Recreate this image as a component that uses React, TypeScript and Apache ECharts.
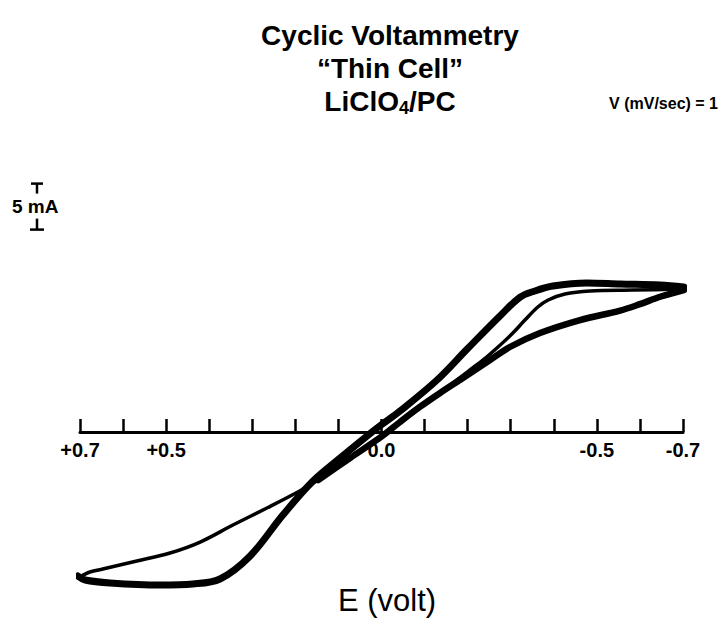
import React, { useEffect, useRef } from "react";
import * as echarts from "echarts";

// Tick labels shown on the potential axis (E in volts, reversed)
const tickLabels: Record<string, string> = {
  "0.7": "+0.7",
  "0.5": "+0.5",
  "0": "0.0",
  "-0.5": "-0.5",
  "-0.7": "-0.7",
};

// Outer (thick) branch: from cathodic end back through 0 to the anodic end
const outerE = [-0.702, -0.647, -0.554, -0.477, -0.398, -0.356, -0.322, -0.275, -0.199, -0.129, -0.043, 0.001, 0.022, 0.096, 0.159, 0.229, 0.305, 0.375, 0.438, 0.514, 0.63, 0.688, 0.705];
const outerI = [15.76, 15.98, 16.09, 16.2, 15.87, 15.33, 14.67, 12.61, 9.02, 5.65, 2.28, 0.76, 0, -2.83, -5.33, -9.02, -13.48, -15.98, -16.52, -16.63, -16.41, -16.09, -15.65];

// Thin return branch in the anodic region
const anodicReturnE = [0.7, 0.677, 0.647, 0.568, 0.491, 0.421, 0.345, 0.266, 0.19, 0.147];
const anodicReturnI = [-15.76, -15.22, -14.89, -14.02, -13.15, -11.96, -10.11, -8.26, -6.41, -5.22];

// Forward branch towards the cathodic end (several overlapping cycles)
const cathodicForwardE = [0.147, 0.073, 0.001, -0.043, -0.089, -0.136, -0.189, -0.252, -0.298, -0.368, -0.461, -0.554, -0.6, -0.647, -0.702];
const cathodicForwardI = [-5.22, -2.83, -0.54, 1.09, 2.72, 4.24, 5.87, 7.83, 9.24, 10.76, 12.17, 13.2, 13.9, 14.7, 15.43];

// Inner (thin) cycle returning from the cathodic end
const innerE = [-0.702, -0.584, -0.484, -0.426, -0.387, -0.363, -0.333, -0.305, -0.268, -0.236, -0.199, -0.136];
const innerI = [15.54, 15.43, 15.33, 15.0, 14.35, 13.59, 12.17, 10.76, 9.13, 7.83, 6.52, 4.24];

const scaleBarMA = [22, 27];
const yMin = -20;
const yMax = 27;

const FONT = '"Liberation Sans", Arial, Helvetica, sans-serif';

const zip = (xs: number[], ys: number[]) => xs.map((x, i) => [x, ys[i]]);

export default function App() {
  const ref = useRef<HTMLDivElement>(null);
  useEffect(() => {
    if (!ref.current) return;
    const chart = echarts.init(ref.current, undefined, { renderer: "svg" });
    const gridTop = 183.6;
    const gridBottom = 11;
    const gridH = 627 - gridTop - gridBottom;
    const zeroOffset = -(gridH * (0 - yMin)) / (yMax - yMin);
    const lineSeries = (data: number[][], width: number) => ({
      type: "line",
      data,
      showSymbol: false,
      symbol: "none",
      smooth: 0.35,
      clip: false,
      lineStyle: { color: "#000", width, cap: "round", join: "round" },
      silent: true,
    });
    chart.setOption({
      animation: false,
      backgroundColor: "#fff",
      grid: { left: 80, right: 39, top: gridTop, bottom: gridBottom, outerBoundsMode: "none", containLabel: false },
      xAxis: {
        type: "value",
        min: -0.7,
        max: 0.7,
        interval: 0.1,
        inverse: true,
        position: "bottom",
        offset: zeroOffset,
        splitLine: { show: false },
        axisLine: { onZero: false, lineStyle: { color: "#000", width: 3 } },
        axisTick: { inside: true, length: 13, lineStyle: { color: "#000", width: 2.5 } },
        axisLabel: {
          interval: 0,
          showMinLabel: true,
          showMaxLabel: true,
          hideOverlap: false,
          color: "#000",
          fontFamily: FONT,
          fontWeight: "bold",
          fontSize: 20,
          margin: 8,
          formatter: (v: number) => {
            const k = String(Math.round(v * 10) / 10);
            return tickLabels[k] ?? "";
          },
        },
      },
      yAxis: {
        type: "value",
        min: yMin,
        max: yMax,
        show: false,
        splitLine: { show: false },
      },
      series: [
        lineSeries(zip(outerE, outerI), 7),
        lineSeries(zip(anodicReturnE, anodicReturnI), 3.5),
        lineSeries(zip(cathodicForwardE, cathodicForwardI), 6.5),
        lineSeries(zip(innerE, innerI), 3.5),
      ],
    });

    const yTop = chart.convertToPixel({ yAxisIndex: 0 }, scaleBarMA[1]) as number;
    const yBot = chart.convertToPixel({ yAxisIndex: 0 }, scaleBarMA[0]) as number;
    const sx = 37;
    const lw = { stroke: "#000", lineWidth: 2.5 };
    chart.setOption({
      graphic: [
        {
          type: "text",
          x: 390,
          y: 35,
          style: { text: "Cyclic Voltammetry", font: `bold 28px ${FONT}`, fill: "#000", align: "center", verticalAlign: "middle" },
        },
        {
          type: "text",
          x: 390,
          y: 68,
          style: { text: "\u201cThin Cell\u201d", font: `bold 28px ${FONT}`, fill: "#000", align: "center", verticalAlign: "middle" },
        },
        {
          type: "text",
          x: 390,
          y: 101,
          style: {
            text: "{a|LiClO}{s|4}{a|/PC}",
            align: "center",
            verticalAlign: "middle",
            rich: {
              a: { fontFamily: FONT, fontWeight: "bold", fontSize: 28, lineHeight: 32, fill: "#000" },
              s: { fontFamily: FONT, fontWeight: "bold", fontSize: 18, lineHeight: 18, verticalAlign: "bottom", fill: "#000" },
            },
          },
        },
        {
          type: "text",
          x: 718,
          y: 103,
          style: { text: "V (mV/sec) = 1", font: `bold 16px ${FONT}`, fill: "#000", align: "right", verticalAlign: "middle" },
        },
        {
          type: "text",
          x: 387,
          y: 600,
          style: { text: "E (volt)", font: `31px ${FONT}`, fill: "#000", align: "center", verticalAlign: "middle" },
        },
        { type: "line", shape: { x1: sx - 6, y1: yTop, x2: sx + 6, y2: yTop }, style: lw },
        { type: "line", shape: { x1: sx, y1: yTop, x2: sx, y2: yTop + 10 }, style: lw },
        { type: "line", shape: { x1: sx, y1: yBot - 11, x2: sx, y2: yBot }, style: lw },
        { type: "line", shape: { x1: sx - 7, y1: yBot, x2: sx + 7, y2: yBot }, style: lw },
        {
          type: "text",
          x: 12,
          y: (yTop + yBot) / 2,
          style: { text: "5 mA", font: `bold 19px ${FONT}`, fill: "#000", align: "left", verticalAlign: "middle" },
        },
      ],
    });
    return () => chart.dispose();
  }, []);
  return <div ref={ref} style={{ position: "fixed", left: 0, top: 0, width: 722, height: 627 }} />;
}
